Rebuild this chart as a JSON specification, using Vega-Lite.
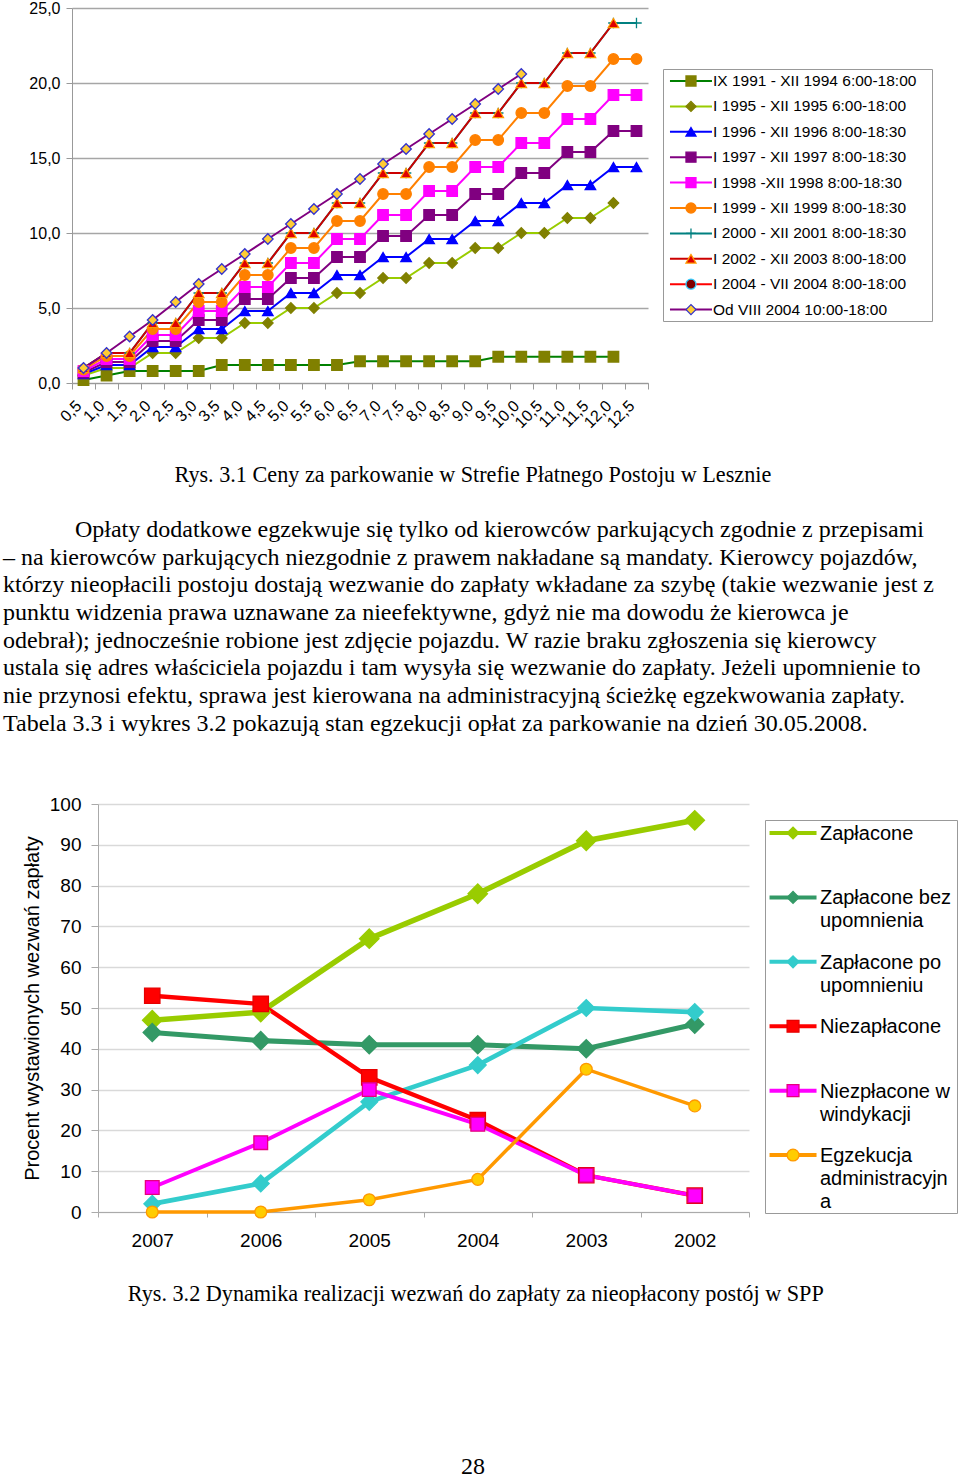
{
"$schema": "https://vega.github.io/schema/vega-lite/v6.json",
"background": "white",
"padding": {"left": 3, "top": 0, "right": 0, "bottom": 0},
"config": {
  "view": {"stroke": null},
  "font": "Liberation Sans",
  "axis": {"labelColor": "#000", "titleColor": "#000", "labelFont": "Liberation Sans", "titleFont": "Liberation Sans", "titleFontWeight": "normal", "domainColor": "#999999", "tickColor": "#999999"}
},
"resolve": {"scale": {"color": "independent", "fill": "independent", "stroke": "independent", "shape": "independent", "size": "independent", "strokeWidth": "independent"}},
"spacing": 0,
"datasets": {
"p1": [
{"s":"s1","h":0.5,"v":0.2},{"s":"s1","h":1,"v":0.5},{"s":"s1","h":1.5,"v":0.8},{"s":"s1","h":2,"v":0.8},{"s":"s1","h":2.5,"v":0.8},{"s":"s1","h":3,"v":0.8},{"s":"s1","h":3.5,"v":1.2},{"s":"s1","h":4,"v":1.2},{"s":"s1","h":4.5,"v":1.2},{"s":"s1","h":5,"v":1.2},{"s":"s1","h":5.5,"v":1.2},{"s":"s1","h":6,"v":1.2},{"s":"s1","h":6.5,"v":1.45},{"s":"s1","h":7,"v":1.45},{"s":"s1","h":7.5,"v":1.45},{"s":"s1","h":8,"v":1.45},{"s":"s1","h":8.5,"v":1.45},{"s":"s1","h":9,"v":1.45},{"s":"s1","h":9.5,"v":1.75},{"s":"s1","h":10,"v":1.75},{"s":"s1","h":10.5,"v":1.75},{"s":"s1","h":11,"v":1.75},{"s":"s1","h":11.5,"v":1.75},{"s":"s1","h":12,"v":1.75},
{"s":"s2","h":0.5,"v":0.5},{"s":"s2","h":1,"v":1},{"s":"s2","h":1.5,"v":1},{"s":"s2","h":2,"v":2},{"s":"s2","h":2.5,"v":2},{"s":"s2","h":3,"v":3},{"s":"s2","h":3.5,"v":3},{"s":"s2","h":4,"v":4},{"s":"s2","h":4.5,"v":4},{"s":"s2","h":5,"v":5},{"s":"s2","h":5.5,"v":5},{"s":"s2","h":6,"v":6},{"s":"s2","h":6.5,"v":6},{"s":"s2","h":7,"v":7},{"s":"s2","h":7.5,"v":7},{"s":"s2","h":8,"v":8},{"s":"s2","h":8.5,"v":8},{"s":"s2","h":9,"v":9},{"s":"s2","h":9.5,"v":9},{"s":"s2","h":10,"v":10},{"s":"s2","h":10.5,"v":10},{"s":"s2","h":11,"v":11},{"s":"s2","h":11.5,"v":11},{"s":"s2","h":12,"v":12},
{"s":"s3","h":0.5,"v":0.6},{"s":"s3","h":1,"v":1.2},{"s":"s3","h":1.5,"v":1.2},{"s":"s3","h":2,"v":2.4},{"s":"s3","h":2.5,"v":2.4},{"s":"s3","h":3,"v":3.6},{"s":"s3","h":3.5,"v":3.6},{"s":"s3","h":4,"v":4.8},{"s":"s3","h":4.5,"v":4.8},{"s":"s3","h":5,"v":6},{"s":"s3","h":5.5,"v":6},{"s":"s3","h":6,"v":7.2},{"s":"s3","h":6.5,"v":7.2},{"s":"s3","h":7,"v":8.4},{"s":"s3","h":7.5,"v":8.4},{"s":"s3","h":8,"v":9.6},{"s":"s3","h":8.5,"v":9.6},{"s":"s3","h":9,"v":10.8},{"s":"s3","h":9.5,"v":10.8},{"s":"s3","h":10,"v":12},{"s":"s3","h":10.5,"v":12},{"s":"s3","h":11,"v":13.2},{"s":"s3","h":11.5,"v":13.2},{"s":"s3","h":12,"v":14.4},{"s":"s3","h":12.5,"v":14.4},
{"s":"s4","h":0.5,"v":0.7},{"s":"s4","h":1,"v":1.4},{"s":"s4","h":1.5,"v":1.4},{"s":"s4","h":2,"v":2.8},{"s":"s4","h":2.5,"v":2.8},{"s":"s4","h":3,"v":4.2},{"s":"s4","h":3.5,"v":4.2},{"s":"s4","h":4,"v":5.6},{"s":"s4","h":4.5,"v":5.6},{"s":"s4","h":5,"v":7},{"s":"s4","h":5.5,"v":7},{"s":"s4","h":6,"v":8.4},{"s":"s4","h":6.5,"v":8.4},{"s":"s4","h":7,"v":9.8},{"s":"s4","h":7.5,"v":9.8},{"s":"s4","h":8,"v":11.2},{"s":"s4","h":8.5,"v":11.2},{"s":"s4","h":9,"v":12.6},{"s":"s4","h":9.5,"v":12.6},{"s":"s4","h":10,"v":14},{"s":"s4","h":10.5,"v":14},{"s":"s4","h":11,"v":15.4},{"s":"s4","h":11.5,"v":15.4},{"s":"s4","h":12,"v":16.8},{"s":"s4","h":12.5,"v":16.8},
{"s":"s5","h":0.5,"v":0.8},{"s":"s5","h":1,"v":1.6},{"s":"s5","h":1.5,"v":1.6},{"s":"s5","h":2,"v":3.2},{"s":"s5","h":2.5,"v":3.2},{"s":"s5","h":3,"v":4.8},{"s":"s5","h":3.5,"v":4.8},{"s":"s5","h":4,"v":6.4},{"s":"s5","h":4.5,"v":6.4},{"s":"s5","h":5,"v":8},{"s":"s5","h":5.5,"v":8},{"s":"s5","h":6,"v":9.6},{"s":"s5","h":6.5,"v":9.6},{"s":"s5","h":7,"v":11.2},{"s":"s5","h":7.5,"v":11.2},{"s":"s5","h":8,"v":12.8},{"s":"s5","h":8.5,"v":12.8},{"s":"s5","h":9,"v":14.4},{"s":"s5","h":9.5,"v":14.4},{"s":"s5","h":10,"v":16},{"s":"s5","h":10.5,"v":16},{"s":"s5","h":11,"v":17.6},{"s":"s5","h":11.5,"v":17.6},{"s":"s5","h":12,"v":19.2},{"s":"s5","h":12.5,"v":19.2},
{"s":"s6","h":0.5,"v":0.9},{"s":"s6","h":1,"v":1.8},{"s":"s6","h":1.5,"v":1.8},{"s":"s6","h":2,"v":3.6},{"s":"s6","h":2.5,"v":3.6},{"s":"s6","h":3,"v":5.4},{"s":"s6","h":3.5,"v":5.4},{"s":"s6","h":4,"v":7.2},{"s":"s6","h":4.5,"v":7.2},{"s":"s6","h":5,"v":9},{"s":"s6","h":5.5,"v":9},{"s":"s6","h":6,"v":10.8},{"s":"s6","h":6.5,"v":10.8},{"s":"s6","h":7,"v":12.6},{"s":"s6","h":7.5,"v":12.6},{"s":"s6","h":8,"v":14.4},{"s":"s6","h":8.5,"v":14.4},{"s":"s6","h":9,"v":16.2},{"s":"s6","h":9.5,"v":16.2},{"s":"s6","h":10,"v":18},{"s":"s6","h":10.5,"v":18},{"s":"s6","h":11,"v":19.8},{"s":"s6","h":11.5,"v":19.8},{"s":"s6","h":12,"v":21.6},{"s":"s6","h":12.5,"v":21.6},
{"s":"s7","h":0.5,"v":1},{"s":"s7","h":1,"v":2},{"s":"s7","h":1.5,"v":2},{"s":"s7","h":2,"v":4},{"s":"s7","h":2.5,"v":4},{"s":"s7","h":3,"v":6},{"s":"s7","h":3.5,"v":6},{"s":"s7","h":4,"v":8},{"s":"s7","h":4.5,"v":8},{"s":"s7","h":5,"v":10},{"s":"s7","h":5.5,"v":10},{"s":"s7","h":6,"v":12},{"s":"s7","h":6.5,"v":12},{"s":"s7","h":7,"v":14},{"s":"s7","h":7.5,"v":14},{"s":"s7","h":8,"v":16},{"s":"s7","h":8.5,"v":16},{"s":"s7","h":9,"v":18},{"s":"s7","h":9.5,"v":18},{"s":"s7","h":10,"v":20},{"s":"s7","h":10.5,"v":20},{"s":"s7","h":11,"v":22},{"s":"s7","h":11.5,"v":22},{"s":"s7","h":12,"v":24},{"s":"s7","h":12.5,"v":24},
{"s":"s8","h":0.5,"v":1},{"s":"s8","h":1,"v":2},{"s":"s8","h":1.5,"v":2},{"s":"s8","h":2,"v":4},{"s":"s8","h":2.5,"v":4},{"s":"s8","h":3,"v":6},{"s":"s8","h":3.5,"v":6},{"s":"s8","h":4,"v":8},{"s":"s8","h":4.5,"v":8},{"s":"s8","h":5,"v":10},{"s":"s8","h":5.5,"v":10},{"s":"s8","h":6,"v":12},{"s":"s8","h":6.5,"v":12},{"s":"s8","h":7,"v":14},{"s":"s8","h":7.5,"v":14},{"s":"s8","h":8,"v":16},{"s":"s8","h":8.5,"v":16},{"s":"s8","h":9,"v":18},{"s":"s8","h":9.5,"v":18},{"s":"s8","h":10,"v":20},{"s":"s8","h":10.5,"v":20},{"s":"s8","h":11,"v":22},{"s":"s8","h":11.5,"v":22},{"s":"s8","h":12,"v":24},
{"s":"s10","h":0.5,"v":1},{"s":"s10","h":1,"v":2},{"s":"s10","h":1.5,"v":3.1},{"s":"s10","h":2,"v":4.2},{"s":"s10","h":2.5,"v":5.4},{"s":"s10","h":3,"v":6.6},{"s":"s10","h":3.5,"v":7.6},{"s":"s10","h":4,"v":8.6},{"s":"s10","h":4.5,"v":9.6},{"s":"s10","h":5,"v":10.6},{"s":"s10","h":5.5,"v":11.6},{"s":"s10","h":6,"v":12.6},{"s":"s10","h":6.5,"v":13.6},{"s":"s10","h":7,"v":14.6},{"s":"s10","h":7.5,"v":15.6},{"s":"s10","h":8,"v":16.6},{"s":"s10","h":8.5,"v":17.6},{"s":"s10","h":9,"v":18.6},{"s":"s10","h":9.5,"v":19.6},{"s":"s10","h":10,"v":20.6}
],
"lg1": [
{"s":"s1","i":0,"label":"IX 1991 - XII 1994 6:00-18:00"},
{"s":"s2","i":1,"label":"I 1995 - XII 1995 6:00-18:00"},
{"s":"s3","i":2,"label":"I 1996 - XII 1996 8:00-18:30"},
{"s":"s4","i":3,"label":"I 1997 - XII 1997 8:00-18:30"},
{"s":"s5","i":4,"label":"I 1998 -XII 1998 8:00-18:30"},
{"s":"s6","i":5,"label":"I 1999 - XII 1999 8:00-18:30"},
{"s":"s7","i":6,"label":"I 2000 - XII 2001 8:00-18:30"},
{"s":"s8","i":7,"label":"I 2002 - XII 2003 8:00-18:00"},
{"s":"s9","i":8,"label":"I 2004 - VII 2004 8:00-18:00"},
{"s":"s10","i":9,"label":"Od VIII 2004 10:00-18:00"}
],
"p2": [
{"k":"Zapłacone","yr":"2007","p":47},{"k":"Zapłacone","yr":"2006","p":49},{"k":"Zapłacone","yr":"2005","p":67},{"k":"Zapłacone","yr":"2004","p":78},{"k":"Zapłacone","yr":"2003","p":91},{"k":"Zapłacone","yr":"2002","p":96},
{"k":"Zapłacone bez upomnienia","yr":"2007","p":44},{"k":"Zapłacone bez upomnienia","yr":"2006","p":42},{"k":"Zapłacone bez upomnienia","yr":"2005","p":41},{"k":"Zapłacone bez upomnienia","yr":"2004","p":41},{"k":"Zapłacone bez upomnienia","yr":"2003","p":40},{"k":"Zapłacone bez upomnienia","yr":"2002","p":46},
{"k":"Zapłacone po upomnieniu","yr":"2007","p":2},{"k":"Zapłacone po upomnieniu","yr":"2006","p":7},{"k":"Zapłacone po upomnieniu","yr":"2005","p":27},{"k":"Zapłacone po upomnieniu","yr":"2004","p":36},{"k":"Zapłacone po upomnieniu","yr":"2003","p":50},{"k":"Zapłacone po upomnieniu","yr":"2002","p":49},
{"k":"Niezapłacone","yr":"2007","p":53},{"k":"Niezapłacone","yr":"2006","p":51},{"k":"Niezapłacone","yr":"2005","p":33},{"k":"Niezapłacone","yr":"2004","p":22.5},{"k":"Niezapłacone","yr":"2003","p":9},{"k":"Niezapłacone","yr":"2002","p":4},
{"k":"Niezpłacone w windykacji","yr":"2007","p":6},{"k":"Niezpłacone w windykacji","yr":"2006","p":17},{"k":"Niezpłacone w windykacji","yr":"2005","p":30},{"k":"Niezpłacone w windykacji","yr":"2004","p":21.5},{"k":"Niezpłacone w windykacji","yr":"2003","p":9},{"k":"Niezpłacone w windykacji","yr":"2002","p":4},
{"k":"Egzekucja administracyjna","yr":"2007","p":0},{"k":"Egzekucja administracyjna","yr":"2006","p":0},{"k":"Egzekucja administracyjna","yr":"2005","p":3},{"k":"Egzekucja administracyjna","yr":"2004","p":8},{"k":"Egzekucja administracyjna","yr":"2003","p":35},{"k":"Egzekucja administracyjna","yr":"2002","p":26}
],
"lg2": [
{"k":"Zapłacone","i":0,"label":"Zapłacone"},
{"k":"Zapłacone bez upomnienia","i":1,"label":"Zapłacone bez\nupomnienia"},
{"k":"Zapłacone po upomnieniu","i":2,"label":"Zapłacone po\nupomnieniu"},
{"k":"Niezapłacone","i":3,"label":"Niezapłacone"},
{"k":"Niezpłacone w windykacji","i":4,"label":"Niezpłacone w\nwindykacji"},
{"k":"Egzekucja administracyjna","i":5,"label":"Egzekucja\nadministracyjn\na"}
],
"para": [
{"line":0,"t":"Opłaty dodatkowe egzekwuje się tylko od kierowców parkujących zgodnie z przepisami"},
{"line":1,"t":"– na kierowców parkujących niezgodnie z prawem nakładane są mandaty.  Kierowcy pojazdów,"},
{"line":2,"t":"którzy nieopłacili postoju dostają wezwanie do zapłaty wkładane za szybę (takie wezwanie jest z"},
{"line":3,"t":"punktu widzenia prawa uznawane za nieefektywne, gdyż nie ma dowodu że kierowca je"},
{"line":4,"t":"odebrał); jednocześnie robione jest zdjęcie pojazdu.  W razie braku zgłoszenia się kierowcy"},
{"line":5,"t":"ustala się adres właściciela pojazdu i tam wysyła się wezwanie do zapłaty.  Jeżeli upomnienie to"},
{"line":6,"t":"nie przynosi efektu, sprawa jest kierowana na administracyjną ścieżkę egzekwowania zapłaty."},
{"line":7,"t":"Tabela 3.3 i wykres 3.2 pokazują stan egzekucji opłat za parkowanie na dzień 30.05.2008."}
]
},
"vconcat": [
{
 "spacing": 13,
 "hconcat": [
  {"width": 12, "height": 1, "data": {"values": []}, "mark": {"type": "point", "opacity": 0}},
  {
   "width": 576, "height": 375,
   "data": {"name": "p1"},
   "encoding": {
    "x": {"field": "h", "type": "ordinal", "scale": {"type": "band", "paddingInner": 0, "paddingOuter": 0},
          "axis": {"title": null, "labelAngle": -45, "labelAlign": "right", "labelBaseline": "middle", "labelFontSize": 16, "labelPadding": 14, "labelOffset": -5, "tickSize": 6, "tickBand": "extent", "labelOverlap": false, "labelExpr": "datum.value > 0 ? replace(format(datum.value, '.1f'), '.', ',') : ''", "grid": false}},
    "y": {"field": "v", "type": "quantitative", "scale": {"domain": [0, 25], "nice": false},
          "axis": {"title": null, "values": [0, 5, 10, 15, 20, 25], "labelExpr": "replace(format(datum.value, '.1f'), '.', ',')", "labelFontSize": 16, "labelPadding": 6, "tickSize": 6, "grid": true, "gridColor": "#a6a6a6", "gridWidth": 1.5}}
   },
   "layer": [
    {"mark": {"type": "line", "strokeWidth": 2},
     "encoding": {"color": {"field": "s", "type": "nominal", "legend": null,
       "scale": {"domain": ["s1","s2","s3","s4","s5","s6","s7","s8","s9","s10"], "range": ["#008000","#99CC00","#0000FF","#800080","#FF00FF","#FF8000","#008080","#CC0000","#FF0000","#800080"]}}}},
    {"mark": {"type": "point", "size": 110, "strokeWidth": 1.3, "opacity": 1},
     "encoding": {
      "shape": {"field": "s", "type": "nominal", "legend": null, "scale": {"domain": ["s1","s2","s3","s4","s5","s6","s7","s8","s9","s10"], "range": ["square","diamond","triangle-up","square","square","circle","M-1,0H1M0,-1V1","triangle-up","circle","diamond"]}},
      "fill": {"field": "s", "type": "nominal", "legend": null, "scale": {"domain": ["s1","s2","s3","s4","s5","s6","s7","s8","s9","s10"], "range": ["#808000","#808000","#0000FF","#800080","#FF00FF","#FF8000","transparent","#E00000","#800000","#FFCC33"]}},
      "stroke": {"field": "s", "type": "nominal", "legend": null, "scale": {"domain": ["s1","s2","s3","s4","s5","s6","s7","s8","s9","s10"], "range": ["#808000","#808000","#0000FF","#800080","#FF00FF","#FF8000","#008080","#FF9900","#33CCFF","#3333CC"]}}
     }}
   ]
  },
  {
   "spacing": 0,
   "vconcat": [
    {"width": 1, "height": 60, "data": {"values": []}, "mark": {"type": "point", "opacity": 0}},
    {
     "width": 269, "height": 252,
     "view": {"stroke": "#999999", "strokeWidth": 1},
     "data": {"name": "lg1"},
     "encoding": {"y": {"field": "i", "type": "quantitative", "scale": {"domain": [-0.472, 9.449], "reverse": true, "nice": false, "zero": false}, "axis": null}},
     "layer": [
      {"mark": {"type": "point", "shape": "stroke", "size": 1764, "strokeWidth": 2, "opacity": 1, "filled": false},
       "encoding": {"x": {"datum": 0.104, "type": "quantitative", "scale": {"domain": [0, 1], "nice": false, "zero": false}, "axis": null},
                    "color": {"field": "s", "type": "nominal", "legend": null, "scale": {"domain": ["s1","s2","s3","s4","s5","s6","s7","s8","s9","s10"], "range": ["#008000","#99CC00","#0000FF","#800080","#FF00FF","#FF8000","#008080","#CC0000","#FF0000","#800080"]}}}},
      {"mark": {"type": "point", "size": 100, "strokeWidth": 1.3, "opacity": 1},
       "encoding": {"x": {"datum": 0.104, "type": "quantitative", "scale": {"domain": [0, 1], "nice": false, "zero": false}, "axis": null},
        "shape": {"field": "s", "type": "nominal", "legend": null, "scale": {"domain": ["s1","s2","s3","s4","s5","s6","s7","s8","s9","s10"], "range": ["square","diamond","triangle-up","square","square","circle","M-1,0H1M0,-1V1","triangle-up","circle","diamond"]}},
        "fill": {"field": "s", "type": "nominal", "legend": null, "scale": {"domain": ["s1","s2","s3","s4","s5","s6","s7","s8","s9","s10"], "range": ["#808000","#808000","#0000FF","#800080","#FF00FF","#FF8000","transparent","#E00000","#800000","#FFCC33"]}},
        "stroke": {"field": "s", "type": "nominal", "legend": null, "scale": {"domain": ["s1","s2","s3","s4","s5","s6","s7","s8","s9","s10"], "range": ["#808000","#808000","#0000FF","#800080","#FF00FF","#FF8000","#008080","#FF9900","#33CCFF","#3333CC"]}}}},
      {"mark": {"type": "text", "align": "left", "baseline": "middle", "fontSize": 15.5, "font": "Liberation Sans", "color": "#000000"},
       "encoding": {"x": {"datum": 0.186, "type": "quantitative", "scale": {"domain": [0, 1], "nice": false, "zero": false}, "axis": null}, "text": {"field": "label"}}}
     ]
    }
   ]
  }
 ]
},
{
 "width": 957, "height": 364,
 "data": {"name": "para"},
 "layer": [
  {"data": {"values": [{"t": "Rys. 3.1 Ceny za parkowanie w Strefie Płatnego Postoju w Lesznie"}]},
   "mark": {"type": "text", "font": "Liberation Serif", "fontSize": 22.2, "align": "center", "baseline": "middle", "color": "#000000"},
   "encoding": {"text": {"field": "t"},
     "x": {"datum": 0.491, "type": "quantitative", "scale": {"domain": [0, 1], "nice": false, "zero": false}, "axis": null},
     "y": {"datum": -2, "type": "quantitative", "scale": {"domain": [-3.574, 9.567], "reverse": true, "nice": false, "zero": false}, "axis": null}}},
  {"transform": [{"filter": "datum.line == 0"}],
   "mark": {"type": "text", "font": "Liberation Serif", "fontSize": 24, "align": "left", "baseline": "middle", "color": "#000000"},
   "encoding": {"text": {"field": "t"},
     "x": {"datum": 0.0752, "type": "quantitative", "scale": {"domain": [0, 1], "nice": false, "zero": false}, "axis": null},
     "y": {"field": "line", "type": "quantitative", "scale": {"domain": [-3.574, 9.567], "reverse": true, "nice": false, "zero": false}, "axis": null}}},
  {"transform": [{"filter": "datum.line > 0"}],
   "mark": {"type": "text", "font": "Liberation Serif", "fontSize": 24, "align": "left", "baseline": "middle", "color": "#000000"},
   "encoding": {"text": {"field": "t"},
     "x": {"datum": 0, "type": "quantitative", "scale": {"domain": [0, 1], "nice": false, "zero": false}, "axis": null},
     "y": {"field": "line", "type": "quantitative", "scale": {"domain": [-3.574, 9.567], "reverse": true, "nice": false, "zero": false}, "axis": null}}}
 ]
},
{
 "spacing": 11,
 "hconcat": [
  {"width": 8, "height": 1, "data": {"values": []}, "mark": {"type": "point", "opacity": 0}},
  {
   "width": 651, "height": 408,
   "data": {"name": "p2"},
   "encoding": {
    "x": {"field": "yr", "type": "ordinal", "scale": {"type": "band", "domain": ["2007","2006","2005","2004","2003","2002"], "paddingInner": 0, "paddingOuter": 0},
          "axis": {"title": null, "labelAngle": 0, "labelFontSize": 19, "labelPadding": 14, "tickSize": 5, "tickBand": "extent", "grid": false, "domainColor": "#aaaaaa", "tickColor": "#aaaaaa"}},
    "y": {"field": "p", "type": "quantitative", "scale": {"domain": [0, 100], "nice": false},
          "axis": {"title": "Procent wystawionych wezwań zapłaty", "titleFontSize": 20, "titlePadding": 7, "values": [0,10,20,30,40,50,60,70,80,90,100], "labelFontSize": 19, "labelPadding": 10, "tickSize": 7, "grid": true, "gridColor": "#d9d9d9", "gridWidth": 1.5, "domainColor": "#aaaaaa", "tickColor": "#aaaaaa"}}
   },
   "layer": [
    {"mark": {"type": "line"},
     "encoding": {
      "color": {"field": "k", "type": "nominal", "legend": null, "scale": {"domain": ["Zapłacone","Zapłacone bez upomnienia","Zapłacone po upomnieniu","Niezapłacone","Niezpłacone w windykacji","Egzekucja administracyjna"], "range": ["#99CC00","#339966","#33CCCC","#FF0000","#FF00FF","#FF9900"]}},
      "strokeWidth": {"field": "k", "type": "ordinal", "legend": null, "scale": {"domain": ["Zapłacone","Zapłacone bez upomnienia","Zapłacone po upomnieniu","Niezapłacone","Niezpłacone w windykacji","Egzekucja administracyjna"], "range": [5.5, 3.5, 3.5, 5.5, 3.5, 3]}}
     }},
    {"mark": {"type": "point", "strokeWidth": 1.3, "opacity": 1},
     "encoding": {
      "shape": {"field": "k", "type": "nominal", "legend": null, "scale": {"domain": ["Zapłacone","Zapłacone bez upomnienia","Zapłacone po upomnieniu","Niezapłacone","Niezpłacone w windykacji","Egzekucja administracyjna"], "range": ["diamond","diamond","diamond","square","square","circle"]}},
      "fill": {"field": "k", "type": "nominal", "legend": null, "scale": {"domain": ["Zapłacone","Zapłacone bez upomnienia","Zapłacone po upomnieniu","Niezapłacone","Niezpłacone w windykacji","Egzekucja administracyjna"], "range": ["#99CC00","#339966","#33CCCC","#FF0000","#FF00FF","#FFCC00"]}},
      "stroke": {"field": "k", "type": "nominal", "legend": null, "scale": {"domain": ["Zapłacone","Zapłacone bez upomnienia","Zapłacone po upomnieniu","Niezapłacone","Niezpłacone w windykacji","Egzekucja administracyjna"], "range": ["#99CC00","#339966","#33CCCC","#E60000","#E6007E","#FF9900"]}},
      "size": {"field": "k", "type": "ordinal", "legend": null, "scale": {"domain": ["Zapłacone","Zapłacone bez upomnienia","Zapłacone po upomnieniu","Niezapłacone","Niezpłacone w windykacji","Egzekucja administracyjna"], "range": [380, 140, 150, 320, 250, 160]}}
     }}
   ]
  },
  {
   "spacing": 0,
   "vconcat": [
    {"width": 1, "height": 15, "data": {"values": []}, "mark": {"type": "point", "opacity": 0}},
    {
     "width": 192, "height": 393,
     "view": {"stroke": "#999999", "strokeWidth": 1},
     "data": {"name": "lg2"},
     "encoding": {"y": {"field": "i", "type": "quantitative", "scale": {"domain": [-0.202, 5.9], "reverse": true, "nice": false, "zero": false}, "axis": null}},
     "layer": [
      {"mark": {"type": "point", "shape": "stroke", "size": 2209, "strokeWidth": 4, "opacity": 1, "filled": false},
       "encoding": {"x": {"datum": 0.146, "type": "quantitative", "scale": {"domain": [0, 1], "nice": false, "zero": false}, "axis": null},
        "color": {"field": "k", "type": "nominal", "legend": null, "scale": {"domain": ["Zapłacone","Zapłacone bez upomnienia","Zapłacone po upomnieniu","Niezapłacone","Niezpłacone w windykacji","Egzekucja administracyjna"], "range": ["#99CC00","#339966","#33CCCC","#FF0000","#FF00FF","#FF9900"]}}}},
      {"mark": {"type": "point", "size": 140, "strokeWidth": 1.3, "opacity": 1},
       "encoding": {"x": {"datum": 0.146, "type": "quantitative", "scale": {"domain": [0, 1], "nice": false, "zero": false}, "axis": null},
        "shape": {"field": "k", "type": "nominal", "legend": null, "scale": {"domain": ["Zapłacone","Zapłacone bez upomnienia","Zapłacone po upomnieniu","Niezapłacone","Niezpłacone w windykacji","Egzekucja administracyjna"], "range": ["diamond","diamond","diamond","square","square","circle"]}},
        "fill": {"field": "k", "type": "nominal", "legend": null, "scale": {"domain": ["Zapłacone","Zapłacone bez upomnienia","Zapłacone po upomnieniu","Niezapłacone","Niezpłacone w windykacji","Egzekucja administracyjna"], "range": ["#99CC00","#339966","#33CCCC","#FF0000","#FF00FF","#FFCC00"]}},
        "stroke": {"field": "k", "type": "nominal", "legend": null, "scale": {"domain": ["Zapłacone","Zapłacone bez upomnienia","Zapłacone po upomnieniu","Niezapłacone","Niezpłacone w windykacji","Egzekucja administracyjna"], "range": ["#99CC00","#339966","#33CCCC","#E60000","#E6007E","#FF9900"]}}}},
      {"mark": {"type": "text", "align": "left", "baseline": "top", "dy": -9, "fontSize": 20, "lineBreak": "\n", "lineHeight": 23, "font": "Liberation Sans", "color": "#000000"},
       "encoding": {"x": {"datum": 0.286, "type": "quantitative", "scale": {"domain": [0, 1], "nice": false, "zero": false}, "axis": null}, "text": {"field": "label"}}}
     ]
    }
   ]
  }
 ]
},
{
 "width": 957, "height": 228,
 "data": {"values": [{"kind": "caption", "t": "Rys. 3.2 Dynamika realizacji wezwań do zapłaty za nieopłacony postój w SPP"}, {"kind": "page", "t": "28"}]},
 "layer": [
  {"transform": [{"filter": "datum.kind == 'caption'"}],
   "mark": {"type": "text", "font": "Liberation Serif", "fontSize": 22.2, "align": "center", "baseline": "middle", "color": "#000000"},
   "encoding": {"text": {"field": "t"},
     "x": {"datum": 0.494, "type": "quantitative", "scale": {"domain": [0, 1], "nice": false, "zero": false}, "axis": null},
     "y": {"datum": 0.193, "type": "quantitative", "scale": {"domain": [0, 1], "reverse": true, "nice": false, "zero": false}, "axis": null}}},
  {"transform": [{"filter": "datum.kind == 'page'"}],
   "mark": {"type": "text", "font": "Liberation Serif", "fontSize": 24, "align": "center", "baseline": "middle", "color": "#000000"},
   "encoding": {"text": {"field": "t"},
     "x": {"datum": 0.491, "type": "quantitative", "scale": {"domain": [0, 1], "nice": false, "zero": false}, "axis": null},
     "y": {"datum": 0.95, "type": "quantitative", "scale": {"domain": [0, 1], "reverse": true, "nice": false, "zero": false}, "axis": null}}}
 ]
}
]
}
